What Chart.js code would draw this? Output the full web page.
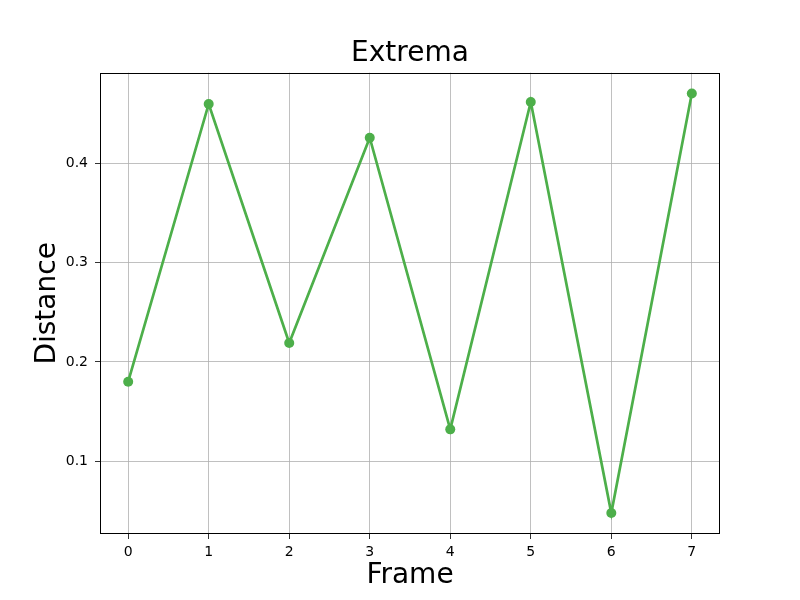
<!DOCTYPE html>
<html>
<head>
<meta charset="utf-8">
<script src="https://cdn.jsdelivr.net/npm/chart.js@4/dist/chart.umd.min.js"></script>
<style>
  html, body { margin: 0; padding: 0; background: #fff; }
  canvas { display: block; }
</style>
</head>
<body>
<canvas id="chart" width="800" height="600"></canvas>
<script>
// values
const frames = [0, 1, 2, 3, 4, 5, 6, 7];
const distances = [0.180, 0.460, 0.219, 0.426, 0.132, 0.462, 0.0476, 0.4705];
const yTicks = [0.1, 0.2, 0.3, 0.4];

const green = '#4daf4a';
const font = 'DejaVu Sans';

// box around the plot area (matplotlib style spines)
const frameBox = {
    id: 'frameBox',
    afterDraw(chart) {
        const { ctx, chartArea: a } = chart;
        ctx.save();
        ctx.strokeStyle = '#000';
        ctx.lineWidth = 1;
        ctx.strokeRect(Math.round(a.left) + 0.5, Math.round(a.top) + 0.5,
            Math.round(a.right - a.left) - 1, Math.round(a.bottom - a.top) - 1);
        ctx.restore();
    }
};

new Chart(document.getElementById('chart'), {
    type: 'line',
    data: {
        datasets: [{
            data: frames.map((f, i) => ({ x: f, y: distances[i] })),
            borderColor: green,
            backgroundColor: green,
            pointBackgroundColor: green,
            pointBorderColor: green,
            pointBorderWidth: 0,
            pointRadius: 5,
            borderWidth: 2.7,
            tension: 0,
            fill: false
        }]
    },
    options: {
        responsive: false,
        animation: false,
        layout: { padding: { top: 0, right: 80, bottom: 0, left: 0 } },
        plugins: {
            legend: { display: false },
            tooltip: { enabled: false },
            title: {
                display: true,
                text: 'Extrema',
                fullSize: false,
                color: '#000',
                font: { family: font, size: 28, weight: 'normal', lineHeight: 1.2 },
                padding: { top: 36.8, bottom: 2.3 }
            }
        },
        scales: {
            x: {
                type: 'linear',
                min: -0.35,
                max: 7.35,
                afterFit: s => { s.height = 66; },
                grid: { color: '#b0b0b0', lineWidth: 0.8, tickColor: '#000', tickLength: 5 },
                border: { display: false },
                ticks: {
                    stepSize: 1,
                    includeBounds: false,
                    color: '#000',
                    padding: 5,
                    font: { family: font, size: 14 }
                },
                title: {
                    display: true,
                    text: 'Frame',
                    color: '#000',
                    font: { family: font, size: 28, lineHeight: 1.2 },
                    padding: { top: 0, bottom: 7.5 }
                }
            },
            y: {
                min: 0.0265,
                max: 0.4915,
                afterFit: s => { s.width = 100; },
                afterBuildTicks: s => { s.ticks = yTicks.map(v => ({ value: v })); },
                grid: { color: '#b0b0b0', lineWidth: 0.8, tickColor: '#000', tickLength: 5 },
                border: { display: false },
                ticks: {
                    color: '#000',
                    padding: 7,
                    font: { family: font, size: 14 },
                    callback: v => v.toFixed(1)
                },
                title: {
                    display: true,
                    text: 'Distance',
                    color: '#000',
                    font: { family: font, size: 28, lineHeight: 1.2 },
                    padding: { top: 30.5, bottom: 0 }
                }
            }
        }
    },
    plugins: [frameBox]
});
</script>
</body>
</html>
